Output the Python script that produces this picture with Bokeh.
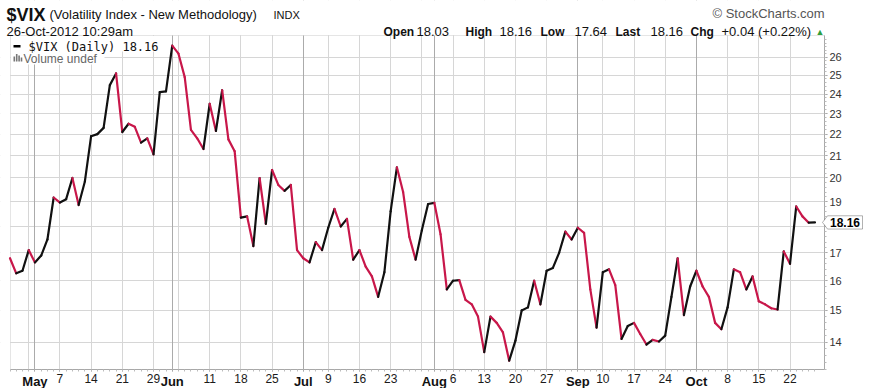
import numpy as np
import pandas as pd
from bokeh.plotting import figure
from bokeh.models import (Range1d, FixedTicker, Label, Grid, BoxAnnotation,
                          PolyAnnotation, ColumnDataSource, LinearAxis)
from bokeh.embed import file_html
from bokeh.resources import INLINE

# ---------------- data ----------------
holidays = ["2012-05-28", "2012-07-04", "2012-09-03"]
dates = [d for d in pd.bdate_range("2012-04-25", "2012-10-26")
         if d.strftime("%Y-%m-%d") not in holidays]

close = [16.80, 16.26, 16.35, 17.10, 16.65, 16.90, 17.50, 19.17, 18.96, 19.10,
         20.00, 18.86, 19.85, 21.90, 22.00, 22.30, 24.47, 25.10, 22.10, 22.50,
         22.35, 21.60, 21.80, 21.05, 24.10, 24.14, 26.66, 26.20, 24.90, 22.20,
         21.80, 21.30, 23.50, 22.15, 24.20, 21.75, 21.20, 18.35, 18.40, 17.25,
         20.00, 18.10, 20.35, 19.70, 19.45, 19.70, 17.10, 16.80, 16.65, 17.40,
         17.10, 17.95, 18.70, 18.00, 18.30, 16.75, 17.10, 16.50, 16.15, 15.45,
         16.30, 18.60, 20.47, 19.40, 17.60, 16.75, 17.85, 18.90, 18.95, 17.70,
         15.70, 16.00, 16.02, 15.35, 15.20, 14.80, 13.70, 14.80, 14.60, 14.30,
         13.45, 14.05, 15.00, 15.10, 16.00, 15.20, 16.35, 16.45, 17.00, 17.80,
         17.50, 17.95, 17.75, 15.70, 14.45, 16.30, 16.40, 15.85, 14.10, 14.50,
         14.60, 14.25, 13.93, 14.07, 14.02, 14.20, 15.45, 16.80, 14.85, 15.80,
         16.35, 15.80, 15.45, 14.60, 14.40, 15.10, 16.40, 16.30, 15.70, 16.15,
         15.30, 15.20, 15.07, 15.03, 17.05, 16.60, 18.80, 18.40, 18.15, 18.16]

grid_dates = ["2012-04-30", "2012-05-07", "2012-05-14", "2012-05-21", "2012-05-29",
              "2012-06-04", "2012-06-11", "2012-06-18", "2012-06-25", "2012-07-02",
              "2012-07-09", "2012-07-16", "2012-07-23", "2012-07-30", "2012-08-06",
              "2012-08-13", "2012-08-20", "2012-08-27", "2012-09-04", "2012-09-10",
              "2012-09-17", "2012-09-24", "2012-10-01", "2012-10-08", "2012-10-15",
              "2012-10-22"]
day_tick_dates = ["2012-05-07", "2012-05-14", "2012-05-21", "2012-05-29",
                  "2012-06-11", "2012-06-18", "2012-06-25", "2012-07-09",
                  "2012-07-16", "2012-07-23", "2012-08-06", "2012-08-13",
                  "2012-08-20", "2012-08-27", "2012-09-10", "2012-09-17",
                  "2012-09-24", "2012-10-08", "2012-10-15", "2012-10-22"]
day_tick_labels = ["7", "14", "21", "29", "11", "18", "25", "9", "16", "23",
                   "6", "13", "20", "27", "10", "17", "24", "8", "15", "22"]
month_tick_dates = ["2012-05-01", "2012-06-01", "2012-07-02", "2012-08-01",
                    "2012-09-04", "2012-10-01"]
month_tick_labels = ["May", "Jun", "Jul", "Aug", "Sep", "Oct"]

y_ticks = [14, 15, 16, 17, 18, 19, 20, 21, 22, 23, 24, 25, 26]
last_value = 18.16

# ---------------- layout helpers (page pixel -> data) ----------------
W, H = 871, 388          # canvas fills the page


def x_of(px):            # trading-day index at page x
    return (px - 9.5) / 6.24


def y_of(py):            # VIX value at page y (log scale)
    return 14.0 * np.exp((341.7 - py) / 460.4)


CH_L, CH_R, CH_T, CH_B = 10, 824, 35, 369   # chart box on the page
cx0, cx1 = x_of(CH_L), x_of(CH_R)
cy0, cy1 = y_of(CH_B), y_of(CH_T)

# ---------------- derived ----------------
date_str = [d.strftime("%Y-%m-%d") for d in dates]
n = len(close)
x = np.arange(n)
c = np.array(close)
UP, DOWN = "#111111", "#c8174a"
seg_colors = np.where(c[1:] >= c[:-1], UP, DOWN)
src = ColumnDataSource(dict(x0=x[:-1], y0=c[:-1], x1=x[1:], y1=c[1:], color=seg_colors))
idx = {d: i for i, d in enumerate(date_str)}
grid_idx = [idx[d] for d in grid_dates]
day_idx = [idx[d] for d in day_tick_dates]
month_idx = [idx[d] for d in month_tick_dates]

p = figure(width=W, height=H, output_backend="svg", toolbar_location=None,
           x_range=Range1d(x_of(0), x_of(W)),
           y_range=Range1d(y_of(H), y_of(0)),
           y_axis_type="log", y_axis_location="right", x_axis_location="below",
           min_border_left=0, min_border_right=0, min_border_top=0,
           min_border_bottom=0)
p.outline_line_color = None
p.background_fill_color = "white"
p.border_fill_color = "white"

# grids
p.xgrid.ticker = FixedTicker(ticks=grid_idx)
p.xgrid.grid_line_color = "#d6d6d6"
p.ygrid.ticker = FixedTicker(ticks=y_ticks)
p.ygrid.grid_line_color = "#d6d6d6"
p.add_layout(Grid(dimension=0, ticker=FixedTicker(ticks=month_idx),
                  grid_line_color="#ababab"))


def sx(px):
    return px


def sy(py):
    return H - py


def screen_box(l, r, b, t, color, level="underlay"):
    return BoxAnnotation(left=l, right=r, bottom=b, top=t,
                         left_units="screen", right_units="screen",
                         top_units="screen", bottom_units="screen",
                         fill_color=color, fill_alpha=1, line_alpha=0,
                         level=level)


# white margins hide grid lines outside the chart box
p.add_layout(screen_box(0, W, sy(CH_T), H, "white"))
p.add_layout(screen_box(0, W, 0, sy(CH_B), "white"))
p.add_layout(screen_box(0, sx(CH_L), 0, H, "white"))
p.add_layout(screen_box(sx(CH_R), W, 0, H, "white"))
# chart border
p.add_layout(BoxAnnotation(left=cx0, right=cx1, bottom=cy0, top=cy1,
                           fill_alpha=0, line_color="#a8a8a8", line_width=1,
                           level="underlay"))

# x axis: day numbers
xa = p.xaxis[0]
xa.fixed_location = cy0
xa.bounds = (cx0, cx1)
xa.ticker = FixedTicker(ticks=day_idx, minor_ticks=list(range(n)))
xa.major_label_overrides = {i: t for i, t in zip(day_idx, day_tick_labels)}
xa.major_label_text_font = "Liberation Sans"
xa.major_label_text_font_size = "12px"
xa.major_label_text_color = "#1a1a1a"
xa.major_label_standoff = 2
xa.axis_line_color = "#a8a8a8"
xa.major_tick_line_color = "#a8a8a8"
xa.major_tick_out = 2
xa.major_tick_in = 0
xa.minor_tick_line_color = "#bbbbbb"
xa.minor_tick_out = 2
xa.minor_tick_in = 0

# x axis: month names (bold)
xm = LinearAxis(fixed_location=cy0, bounds=(cx0, cx1),
                ticker=FixedTicker(ticks=month_idx, minor_ticks=[]),
                major_label_overrides={i: t for i, t in zip(month_idx, month_tick_labels)},
                major_label_text_font="Liberation Sans",
                major_label_text_font_size="13px",
                major_label_text_font_style="bold",
                major_label_text_color="#111111",
                major_label_standoff=2, axis_line_color=None,
                major_tick_line_color="#a8a8a8", major_tick_out=2, major_tick_in=0)
p.add_layout(xm, "below")

# y axis (right)
ya = p.yaxis[0]
ya.fixed_location = cx1
ya.bounds = (cy0, cy1)
minor = [round(13.2 + 0.2 * k, 2) for k in range(75) if 13.2 + 0.2 * k < 27.2]
ya.ticker = FixedTicker(ticks=y_ticks, minor_ticks=minor)
ya.major_label_overrides = {t: ("" if t == 18 else str(t)) for t in y_ticks}
ya.major_label_text_font = "Liberation Sans"
ya.major_label_text_font_size = "11px"
ya.major_label_text_color = "#333333"
ya.major_label_standoff = 2
ya.axis_line_color = "#a8a8a8"
ya.major_tick_line_color = "#999999"
ya.major_tick_out = 3
ya.major_tick_in = 0
ya.minor_tick_line_color = "#bbbbbb"
ya.minor_tick_out = 2
ya.minor_tick_in = 0

# price line
p.segment("x0", "y0", "x1", "y1", source=src, line_color="color",
          line_width=2.2, line_cap="round")


def lab(text, px, py, size, bold=False, color="#111111", font="Liberation Sans",
        align="left"):
    p.add_layout(Label(x=sx(px), y=sy(py), x_units="screen", y_units="screen",
                       text=text, text_font=font, text_font_size=f"{size}px",
                       text_font_style="bold" if bold else "normal",
                       text_color=color, text_align=align, text_baseline="middle"))


# header
lab("$VIX", 6, 14, 18, bold=True)
lab("(Volatility Index - New Methodology)", 49, 14, 13)
lab("INDX", 273, 14, 11)
lab("\u00a9 StockCharts.com", 712, 13, 13, color="#555555")
lab("26-Oct-2012 10:29am", 6, 31, 13)
hdr = [("Open", 383, True), ("18.03", 416, False), ("High", 465, True),
       ("18.16", 499, False), ("Low", 540, True), ("17.64", 574, False),
       ("Last", 615, True), ("18.16", 650, False), ("Chg", 690, True),
       ("+0.04 (+0.22%)", 721, False)]
for t, px, b in hdr:
    lab(t, px, 31, 12 if b else 13, bold=b)
lab("\u25b2", 815, 31, 9, color="#2e9e3e")

# legend inside plot
p.add_layout(screen_box(sx(CH_L) + 0.5, sx(158), sy(51), sy(CH_T) - 0.5, "white"))
p.add_layout(screen_box(sx(CH_L) + 0.5, sx(104), sy(64), sy(51), "white"))
p.add_layout(screen_box(sx(13), sx(20), sy(47), sy(44.5), "black", level="annotation"))
for l, r, t in [(13, 14.6, 56), (15.4, 17, 53.5), (17.8, 19.4, 55), (20.2, 21.8, 57)]:
    p.add_layout(screen_box(sx(l), sx(r), sy(61), sy(t), "#777777", level="annotation"))
lab("$VIX (Daily) 18.16", 28, 46, 12, font="DejaVu Sans Mono")
lab("Volume undef", 23, 58, 12, color="#666666")

# last value tag
f = 1.0145
p.add_layout(PolyAnnotation(xs=[sx(822), sx(827), sx(862), sx(862), sx(827)],
                            xs_units="screen",
                            ys=[last_value, last_value * f, last_value * f,
                                last_value / f, last_value / f],
                            ys_units="data", fill_color="white", fill_alpha=1,
                            line_color="black", line_width=1))
p.add_layout(Label(x=sx(844.5), y=last_value, x_units="screen", y_units="data",
                   text=f"{last_value:.2f}", text_font="Liberation Sans",
                   text_font_size="12px", text_font_style="bold",
                   text_color="black", text_align="center", text_baseline="middle"))

open("out.html", "w").write(file_html(p, INLINE))
